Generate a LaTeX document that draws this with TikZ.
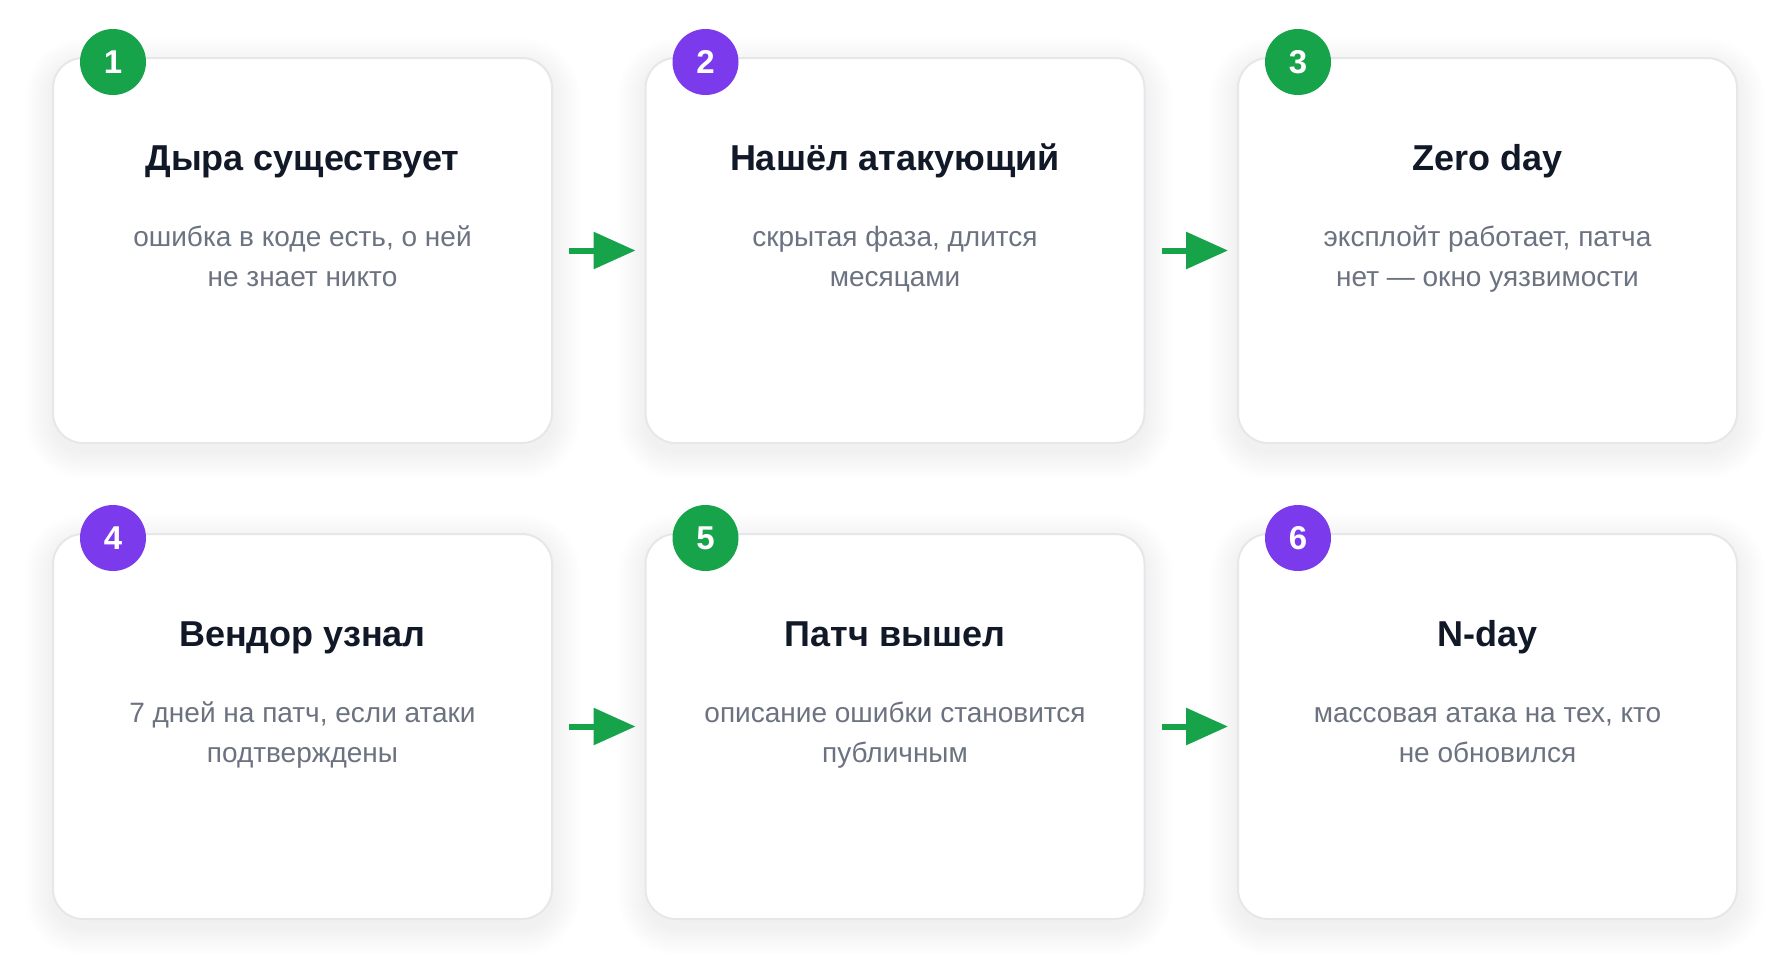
\documentclass[tikz,border=0pt]{standalone}
\usepackage{fontspec}
\setmainfont{Liberation Sans}
\usetikzlibrary{arrows.meta}
\definecolor{okgreen}{HTML}{16A34A}
\definecolor{okpurple}{HTML}{7C3AED}
\definecolor{titlec}{HTML}{111827}
\definecolor{descc}{HTML}{6B7280}
\definecolor{borderc}{HTML}{E5E7EB}
\tikzset{
  cardbox/.style={draw=borderc, line width=2pt, fill=white, rounded corners=30pt,
    minimum width=499pt, minimum height=385pt, inner sep=0pt, outer sep=0pt},
  badge/.style={circle, minimum size=66pt, inner sep=0pt, text=white,
    font=\bfseries\fontsize{33}{36}\selectfont},
  cardtitle/.style={anchor=base, inner sep=0pt, text=titlec,
    font=\bfseries\fontsize{36}{40}\selectfont},
  carddesc/.style={anchor=base, inner sep=0pt, text=descc, align=center,
    font=\fontsize{28}{40}\selectfont},
  flow/.style={draw=okgreen, line width=6pt, -{Triangle[length=42pt,width=36pt]},
    shorten <=17pt, shorten >=10pt},
}
\newcommand\stepcard[7]{%
  \begin{scope}[shift={(#2,#3)}]
    \foreach \i in {2,4,...,28} {
      \fill[black, fill opacity=0.005, rounded corners={(30+\i)*1pt}]
        (-\i, 8-\i) rectangle (499+\i, 393+\i);
    }
    \node[cardbox] (#1) at (249.5,192.5) {};
    \node[badge, fill=#5] (#1n) at (60,4) {#4};
    \node[cardtitle] (#1t) at (249.5,112) {#6};
    \node[carddesc] (#1d) at (249.5,228) {#7};
  \end{scope}}
\begin{document}
\begin{tikzpicture}[x=1pt,y=-1pt]
\useasboundingbox[fill=white] (0,0) rectangle (1790,977);
\stepcard{c1}{53}{58}{1}{okgreen}{Дыра существует}{ошибка в коде есть, о ней\\не знает никто}
\stepcard{c2}{645.5}{58}{2}{okpurple}{Нашёл атакующий}{скрытая фаза, длится\\месяцами}
\stepcard{c3}{1238}{58}{3}{okgreen}{Zero day}{эксплойт работает, патча\\нет — окно уязвимости}
\stepcard{c4}{53}{534}{4}{okpurple}{Вендор узнал}{7 дней на патч, если атаки\\подтверждены}
\stepcard{c5}{645.5}{534}{5}{okgreen}{Патч вышел}{описание ошибки становится\\публичным}
\stepcard{c6}{1238}{534}{6}{okpurple}{N-day}{массовая атака на тех, кто\\не обновился}
\draw[flow] (c1) -- (c2);
\draw[flow] (c2) -- (c3);
\draw[flow] (c4) -- (c5);
\draw[flow] (c5) -- (c6);
\end{tikzpicture}
\end{document}
